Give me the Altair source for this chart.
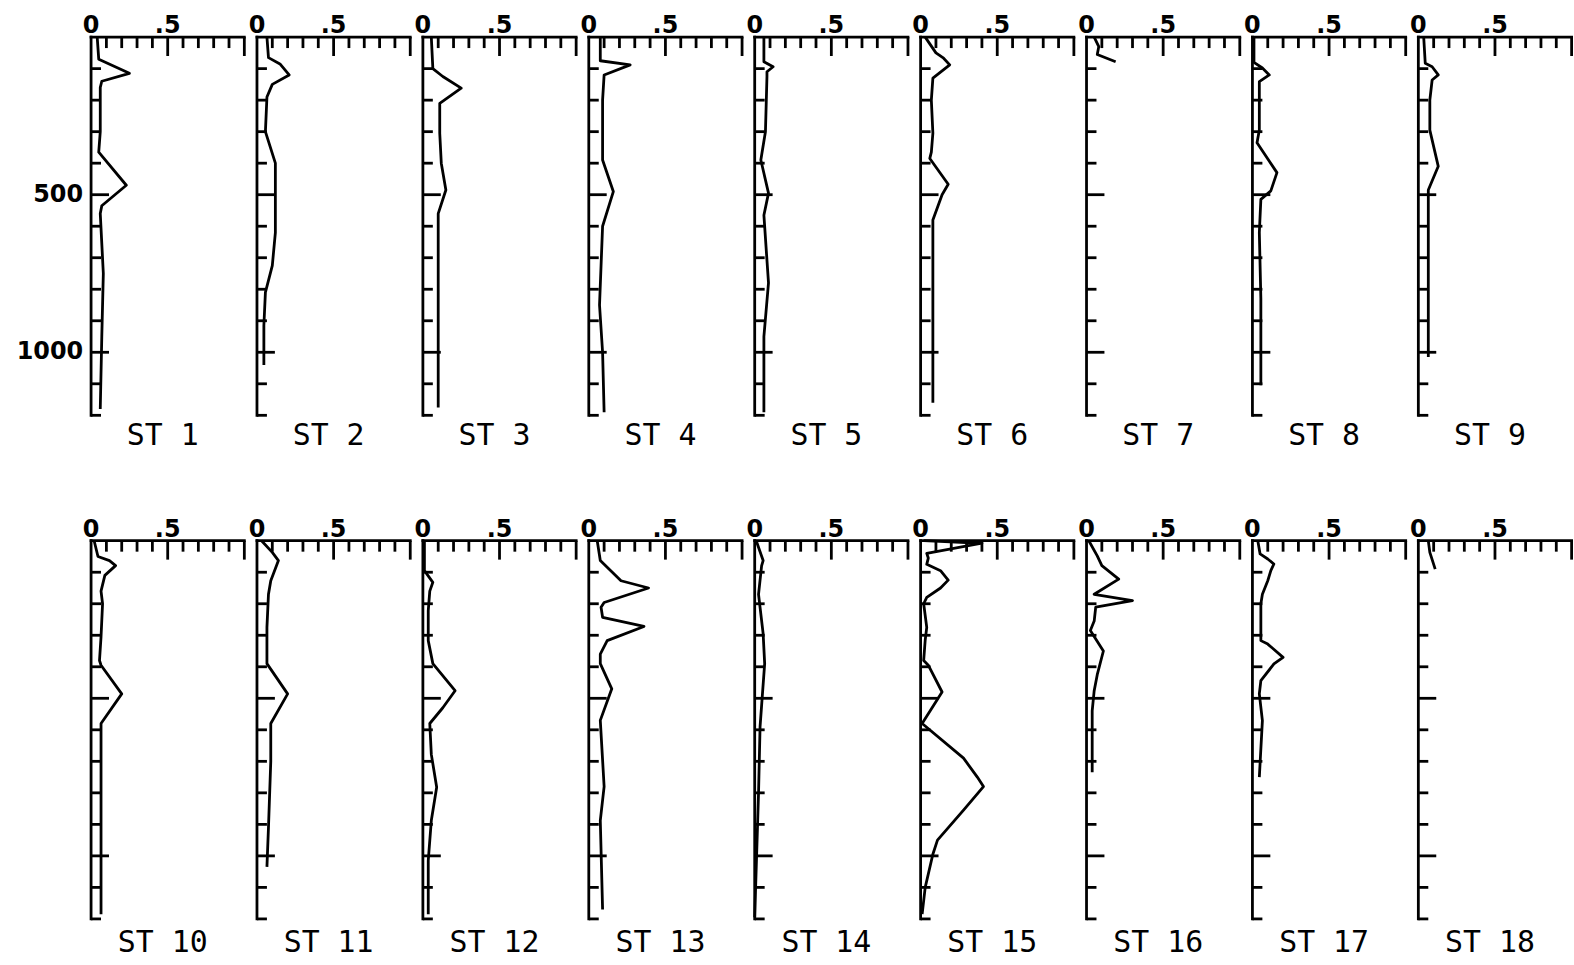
import altair as alt
import pandas as pd

# ---- station profiles: depth (m) and value ----
ST1_DEPTH = [0, 70, 115, 140, 160, 300, 365, 470, 535, 560, 750, 950, 1180]
ST1_VALUE = [0.04, 0.05, 0.25, 0.07, 0.06, 0.06, 0.05, 0.23, 0.07, 0.06, 0.08, 0.07, 0.06]
ST2_DEPTH = [0, 65, 85, 120, 150, 190, 300, 400, 505, 620, 725, 810, 915, 1040]
ST2_VALUE = [0.065, 0.075, 0.15, 0.21, 0.10, 0.065, 0.055, 0.12, 0.12, 0.12, 0.10, 0.055, 0.045, 0.045]
ST3_DEPTH = [0, 100, 125, 162, 210, 305, 400, 485, 560, 800, 1175]
ST3_VALUE = [0.055, 0.065, 0.13, 0.25, 0.11, 0.11, 0.12, 0.15, 0.10, 0.10, 0.10]
ST4_DEPTH = [0, 75, 88, 120, 200, 390, 490, 600, 725, 850, 1000, 1190]
ST4_VALUE = [0.075, 0.075, 0.27, 0.10, 0.09, 0.09, 0.16, 0.09, 0.08, 0.07, 0.09, 0.10]
ST5_DEPTH = [0, 78, 94, 110, 125, 300, 390, 495, 565, 780, 950, 1190]
ST5_VALUE = [0.06, 0.06, 0.12, 0.08, 0.08, 0.07, 0.04, 0.09, 0.06, 0.09, 0.06, 0.06]
ST6_DEPTH = [0, 50, 67, 88, 130, 200, 305, 365, 385, 467, 500, 580, 800, 1160]
ST6_VALUE = [0.03, 0.10, 0.15, 0.19, 0.08, 0.07, 0.08, 0.07, 0.06, 0.18, 0.14, 0.08, 0.08, 0.08]
ST7_DEPTH = [0, 30, 55, 78]
ST7_VALUE = [0.05, 0.08, 0.07, 0.19]
ST8_DEPTH = [0, 80, 98, 120, 141, 295, 335, 430, 488, 515, 620, 830, 1105]
ST8_VALUE = [0.01, 0.01, 0.065, 0.11, 0.045, 0.045, 0.03, 0.16, 0.12, 0.055, 0.045, 0.055, 0.055]
ST9_DEPTH = [0, 83, 94, 120, 136, 200, 295, 410, 485, 620, 1015]
ST9_VALUE = [0.035, 0.045, 0.09, 0.13, 0.09, 0.075, 0.075, 0.13, 0.065, 0.065, 0.065]
ST10_DEPTH = [0, 50, 63, 79, 110, 160, 200, 305, 380, 395, 486, 580, 1185]
ST10_VALUE = [0.02, 0.045, 0.12, 0.16, 0.09, 0.065, 0.075, 0.065, 0.055, 0.065, 0.20, 0.065, 0.065]
ST11_DEPTH = [0, 37, 63, 127, 170, 275, 390, 486, 580, 700, 910, 1035]
ST11_VALUE = [0.03, 0.10, 0.14, 0.09, 0.075, 0.065, 0.065, 0.20, 0.09, 0.09, 0.075, 0.065]
ST12_DEPTH = [0, 95, 132, 160, 222, 317, 390, 476, 530, 580, 678, 782, 888, 1015, 1185]
ST12_VALUE = [0.01, 0.01, 0.065, 0.045, 0.035, 0.035, 0.065, 0.21, 0.13, 0.045, 0.055, 0.09, 0.055, 0.035, 0.035]
ST13_DEPTH = [0, 63, 127, 150, 196, 211, 243, 272, 317, 360, 390, 470, 570, 780, 888, 1170]
ST13_VALUE = [0.055, 0.075, 0.21, 0.39, 0.10, 0.08, 0.09, 0.36, 0.12, 0.075, 0.075, 0.15, 0.075, 0.10, 0.075, 0.09]
ST14_DEPTH = [0, 63, 80, 170, 295, 390, 590, 800, 1195]
ST14_VALUE = [0.01, 0.055, 0.045, 0.025, 0.055, 0.065, 0.035, 0.025, 0.0]
ST15_DEPTH = [0, 8, 40, 55, 75, 95, 125, 150, 180, 200, 275, 315, 380, 395, 480, 580, 690, 750, 780, 855, 950, 995, 1100, 1185]
ST15_VALUE = [0.02, 0.40, 0.04, 0.05, 0.04, 0.13, 0.18, 0.13, 0.04, 0.02, 0.04, 0.03, 0.02, 0.05, 0.14, 0.01, 0.28, 0.37, 0.41, 0.28, 0.11, 0.08, 0.03, 0.01]
ST16_DEPTH = [0, 48, 79, 122, 170, 190, 211, 255, 285, 350, 425, 476, 540, 735]
ST16_VALUE = [0.015, 0.07, 0.10, 0.21, 0.05, 0.30, 0.06, 0.05, 0.025, 0.11, 0.07, 0.05, 0.037, 0.037]
ST17_DEPTH = [0, 42, 58, 74, 95, 127, 170, 200, 317, 328, 370, 391, 444, 486, 571, 750]
ST17_VALUE = [0.035, 0.05, 0.10, 0.14, 0.12, 0.10, 0.065, 0.055, 0.055, 0.10, 0.20, 0.14, 0.055, 0.045, 0.065, 0.045]
ST18_DEPTH = [0, 37, 90]
ST18_VALUE = [0.065, 0.075, 0.11]

STATION_NAMES = ["ST 1", "ST 2", "ST 3", "ST 4", "ST 5", "ST 6", "ST 7", "ST 8", "ST 9",
                 "ST 10", "ST 11", "ST 12", "ST 13", "ST 14", "ST 15", "ST 16", "ST 17", "ST 18"]

# ---- axis frame, ticks and labels ----
X_DOMAIN = [0, 1]
Y_DOMAIN = [0, 1200]
X_LABEL_VALUES = [0, 0.5]
X_LABEL_TEXT = ["0", ".5"]
X_MINOR = [0.1, 0.2, 0.3, 0.4, 0.6, 0.7, 0.8, 0.9]
X_MAJOR = [0.5, 1.0]
Y_LABEL_VALUES = [500, 1000]
Y_LABEL_TEXT = ["500", "1000"]
Y_MINOR = [100, 200, 300, 400, 600, 700, 800, 900, 1100, 1200]
Y_MAJOR = [500, 1000]

PROFILES = [
    (ST1_DEPTH, ST1_VALUE), (ST2_DEPTH, ST2_VALUE), (ST3_DEPTH, ST3_VALUE),
    (ST4_DEPTH, ST4_VALUE), (ST5_DEPTH, ST5_VALUE), (ST6_DEPTH, ST6_VALUE),
    (ST7_DEPTH, ST7_VALUE), (ST8_DEPTH, ST8_VALUE), (ST9_DEPTH, ST9_VALUE),
    (ST10_DEPTH, ST10_VALUE), (ST11_DEPTH, ST11_VALUE), (ST12_DEPTH, ST12_VALUE),
    (ST13_DEPTH, ST13_VALUE), (ST14_DEPTH, ST14_VALUE), (ST15_DEPTH, ST15_VALUE),
    (ST16_DEPTH, ST16_VALUE), (ST17_DEPTH, ST17_VALUE), (ST18_DEPTH, ST18_VALUE),
]

LABEL_FONT = "DejaVu Sans"
TITLE_FONT = "DejaVu Sans Mono"
W, H = 154, 380
SW = 2.8

X_SCALE = alt.Scale(domain=X_DOMAIN, nice=False, zero=False)
Y_SCALE = alt.Scale(domain=Y_DOMAIN, reverse=True, nice=False, zero=False)


def panel(name, depth, value, show_y, title_offset):
    df = pd.DataFrame({"depth": depth, "value": value})

    line = alt.Chart(df).mark_line(color="black", strokeWidth=SW, strokeJoin="round").encode(
        x=alt.X("value:Q", scale=X_SCALE, axis=None),
        y=alt.Y("depth:Q", scale=Y_SCALE, axis=None),
        order=alt.Order("depth:Q"),
    )

    frame = pd.DataFrame({"x0": [X_DOMAIN[0]], "x1": [X_DOMAIN[1]],
                          "y0": [Y_DOMAIN[0]], "y1": [Y_DOMAIN[1]]})
    top_domain = alt.Chart(frame).mark_rule(color="black", strokeWidth=SW, strokeCap="square").encode(
        x=alt.X("x0:Q", scale=X_SCALE, axis=None), x2="x1:Q", y=alt.value(0))
    left_domain = alt.Chart(frame).mark_rule(color="black", strokeWidth=SW, strokeCap="square").encode(
        y=alt.Y("y0:Q", scale=Y_SCALE, axis=None), y2="y1:Q", x=alt.value(0))

    def xticks(vals, length):
        return alt.Chart(pd.DataFrame({"t": vals})).mark_rule(color="black", strokeWidth=SW).encode(
            x=alt.X("t:Q", scale=X_SCALE, axis=None),
            y=alt.value(0), y2=alt.value(length),
        )

    def yticks(vals, length):
        return alt.Chart(pd.DataFrame({"t": vals})).mark_rule(color="black", strokeWidth=SW).encode(
            y=alt.Y("t:Q", scale=Y_SCALE, axis=None),
            x=alt.value(0), x2=alt.value(length),
        )

    xlabels = alt.Chart(pd.DataFrame({"v": X_LABEL_VALUES, "s": X_LABEL_TEXT})).mark_text(
        font=LABEL_FONT, fontSize=24, fontWeight="bold", color="black",
        align="center", baseline="alphabetic", dy=-4,
    ).encode(x=alt.X("v:Q", scale=X_SCALE, axis=None), y=alt.value(0), text="s:N")

    layers = [line, top_domain, left_domain,
              xticks(X_MINOR, 11), xticks(X_MAJOR, 19), yticks(Y_MINOR, 10), yticks(Y_MAJOR, 18),
              xlabels]

    if show_y:
        ylabels = alt.Chart(pd.DataFrame({"v": Y_LABEL_VALUES, "s": Y_LABEL_TEXT})).mark_text(
            font=LABEL_FONT, fontSize=24, fontWeight="bold", color="black",
            align="right", baseline="middle", dx=-8,
        ).encode(y=alt.Y("v:Q", scale=Y_SCALE, axis=None), x=alt.value(0), text="s:N")
        layers.append(ylabels)

    return alt.layer(*layers).properties(
        width=W, height=H,
        title=alt.TitleParams(text=name, orient="bottom", anchor="middle", font=TITLE_FONT,
                              fontSize=30, fontWeight="normal", color="black",
                              offset=title_offset, dx=-5),
    )


panels = [panel(STATION_NAMES[i], d, v, i == 0, 4 if i < 9 else 7)
          for i, (d, v) in enumerate(PROFILES)]

chart = alt.concat(
    *panels, columns=9, spacing={"row": 126, "column": 12.7}, bounds="flush"
).properties(
    padding={"left": 16.5, "top": 12, "right": 0, "bottom": 2},
    background="white",
).configure_view(stroke=None)

chart.save("out.html", embed_options={"renderer": "svg", "actions": False})
